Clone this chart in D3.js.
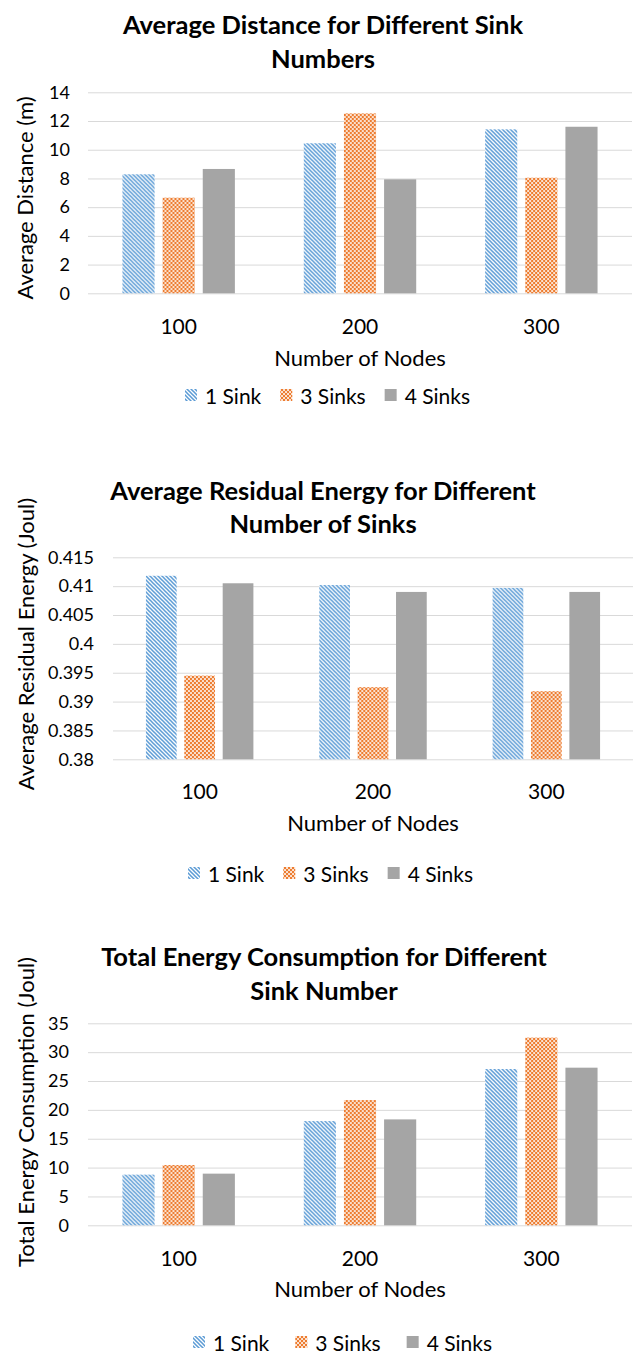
<!DOCTYPE html>
<html>
<head>
<meta charset="utf-8">
<script src="https://cdn.jsdelivr.net/npm/d3@7"></script>
<style>
  html, body { margin: 0; padding: 0; background: #fff; }
  svg { display: block; }
  text { font-family: Lato, "Open Sans", sans-serif; fill: #000; }
</style>
</head>
<body>
<svg id="page" width="636" height="1356"></svg>
<script>
// Shared categories and series
const categories = ["100", "200", "300"];
const seriesNames = ["1 Sink", "3 Sinks", "4 Sinks"];

// Average distance (m)
const distanceOneSink = [8.29, 10.45, 11.42];
const distanceThreeSinks = [6.66, 12.53, 8.05];
const distanceFourSinks = [8.66, 7.94, 11.6];
const distanceTicks = [0, 2, 4, 6, 8, 10, 12, 14];
const distanceTickLabels = ["0", "2", "4", "6", "8", "10", "12", "14"];

// Average residual energy (Joul)
const residualOneSink = [0.4118, 0.4102, 0.4097];
const residualThreeSinks = [0.3945, 0.3925, 0.3918];
const residualFourSinks = [0.4105, 0.409, 0.409];
const residualTicks = [0.38, 0.385, 0.39, 0.395, 0.4, 0.405, 0.41, 0.415];
const residualTickLabels = ["0.38", "0.385", "0.39", "0.395", "0.4", "0.405", "0.41", "0.415"];

// Total energy consumption (Joul)
const consumptionOneSink = [8.78, 18.06, 27.08];
const consumptionThreeSinks = [10.45, 21.7, 32.52];
const consumptionFourSinks = [8.95, 18.35, 27.31];
const consumptionTicks = [0, 5, 10, 15, 20, 25, 30, 35];
const consumptionTickLabels = ["0", "5", "10", "15", "20", "25", "30", "35"];

const svg = d3.select("#page");

// Fill patterns: blue downward diagonal, orange small checkerboard, solid grey
const defs = svg.append("defs");
const hatch = defs.append("pattern")
  .attr("id", "hatchBlue").attr("patternUnits", "userSpaceOnUse")
  .attr("width", 4).attr("height", 4);
hatch.append("rect").attr("width", 4).attr("height", 4).attr("fill", "#fff");
hatch.append("path")
  .attr("d", "M-1,-1 L5,5 M-1,3 L1,5 M3,-1 L5,1")
  .attr("stroke", "#5b9bd5").attr("stroke-width", 1.55);

const checker = defs.append("pattern")
  .attr("id", "checkOrange").attr("patternUnits", "userSpaceOnUse")
  .attr("width", 4).attr("height", 4);
checker.append("rect").attr("width", 4).attr("height", 4).attr("fill", "#ed7d31");
checker.append("rect").attr("x", 0.15).attr("y", 0.15).attr("width", 1.75).attr("height", 1.75).attr("fill", "#fff");
checker.append("rect").attr("x", 2.15).attr("y", 2.15).attr("width", 1.75).attr("height", 1.75).attr("fill", "#fff");

const seriesFills = ["url(#hatchBlue)", "url(#checkOrange)", "#a5a5a5"];

function drawChart(cfg) {
  const g = svg.append("g");

  const x = d3.scaleBand().domain(categories)
    .range([cfg.left, cfg.right]).paddingInner(0.38).paddingOuter(0.19);
  const xs = d3.scaleBand().domain(seriesNames)
    .range([0, x.bandwidth()]).paddingInner(0.2).paddingOuter(0);
  const y = d3.scaleLinear().domain(cfg.domain).range([cfg.bottom, cfg.top]);

  // Title (two lines)
  cfg.title.forEach((line, i) => {
    g.append("text")
      .attr("x", cfg.titleX).attr("y", cfg.titleY[i])
      .attr("text-anchor", "middle").attr("dominant-baseline", "central")
      .style("font-weight", 700).style("font-size", "25.5px")
      .text(line);
  });

  // Gridlines and y tick labels
  const yAxis = d3.axisLeft(y).tickValues(cfg.ticks)
    .tickFormat((d, i) => cfg.tickLabels[i])
    .tickSize(-(cfg.right - cfg.left)).tickPadding(cfg.left - cfg.labelRight);
  const ya = g.append("g").attr("transform", `translate(${cfg.left},0)`).call(yAxis);
  ya.select(".domain").remove();
  ya.selectAll(".tick line").attr("stroke", "#d9d9d9").attr("stroke-width", 1);
  ya.selectAll(".tick text")
    .style("font-size", "18px").style("font-family", "Lato, sans-serif").attr("fill", "#000");

  // Bars
  const rows = categories.map((c, i) => ({ cat: c, vals: cfg.series.map(s => s[i]) }));
  const groups = g.append("g").selectAll("g").data(rows).join("g")
    .attr("transform", d => `translate(${x(d.cat)},0)`);
  groups.selectAll("rect")
    .data(d => d.vals.map((v, j) => ({ name: seriesNames[j], v, j })))
    .join("rect")
    .attr("x", d => xs(d.name))
    .attr("width", xs.bandwidth())
    .attr("y", d => y(d.v))
    .attr("height", d => y(cfg.domain[0]) - y(d.v))
    .attr("fill", d => seriesFills[d.j]);

  // Category axis labels
  const xAxis = d3.axisBottom(x).tickSize(0).tickPadding(0);
  const xa = g.append("g").attr("transform", `translate(0,${cfg.xLabelY})`).call(xAxis);
  xa.select(".domain").remove();
  xa.selectAll(".tick text")
    .attr("dy", null).attr("dominant-baseline", "central")
    .style("font-size", "21px").style("font-family", "Lato, sans-serif").attr("fill", "#000");

  // Axis titles
  g.append("text")
    .attr("x", (cfg.left + cfg.right) / 2).attr("y", cfg.xTitleY)
    .attr("text-anchor", "middle").attr("dominant-baseline", "central")
    .style("font-size", "22px").text("Number of Nodes");
  g.append("text")
    .attr("transform", `translate(${cfg.yTitleX},${cfg.yTitleY}) rotate(-90)`)
    .attr("text-anchor", "middle").attr("dominant-baseline", "central")
    .style("font-size", "22px").text(cfg.yTitle);

  // Legend
  const legend = g.append("g").attr("transform", `translate(${cfg.legendX},${cfg.legendY})`);
  let cursor = 0;
  seriesNames.forEach((name, j) => {
    legend.append("rect")
      .attr("x", cursor).attr("y", -6).attr("width", 12).attr("height", 12)
      .attr("fill", seriesFills[j]);
    const t = legend.append("text")
      .attr("x", cursor + 20).attr("y", 0).attr("dominant-baseline", "central")
      .style("font-size", "21px").text(name);
    cursor += 20 + t.node().getComputedTextLength() + cfg.legendGap;
  });
}

drawChart({
  title: ["Average Distance for Different Sink", "Numbers"],
  titleX: 323, titleY: [24, 58],
  left: 88, right: 632, top: 92.3, bottom: 293.3, labelRight: 70,
  domain: [0, 14], ticks: distanceTicks, tickLabels: distanceTickLabels,
  series: [distanceOneSink, distanceThreeSinks, distanceFourSinks],
  xLabelY: 325, xTitleY: 357,
  yTitle: "Average Distance (m)", yTitleX: 24, yTitleY: 198,
  legendX: 185, legendY: 395, legendGap: 19
});

drawChart({
  title: ["Average Residual Energy for Different", "Number of Sinks"],
  titleX: 323, titleY: [490, 523],
  left: 113, right: 633, top: 557.3, bottom: 759.3, labelRight: 94,
  domain: [0.38, 0.415], ticks: residualTicks, tickLabels: residualTickLabels,
  series: [residualOneSink, residualThreeSinks, residualFourSinks],
  xLabelY: 790, xTitleY: 822,
  yTitle: "Average Residual Energy (Joul)", yTitleX: 25, yTitleY: 644,
  legendX: 188, legendY: 873, legendGap: 19
});

drawChart({
  title: ["Total Energy Consumption for Different", "Sink Number"],
  titleX: 324, titleY: [956, 990],
  left: 88, right: 632, top: 1023.3, bottom: 1225.3, labelRight: 69,
  domain: [0, 35], ticks: consumptionTicks, tickLabels: consumptionTickLabels,
  series: [consumptionOneSink, consumptionThreeSinks, consumptionFourSinks],
  xLabelY: 1257, xTitleY: 1288,
  yTitle: "Total Energy Consumption (Joul)", yTitleX: 25, yTitleY: 1112,
  legendX: 193, legendY: 1342, legendGap: 26
});
</script>
</body>
</html>
